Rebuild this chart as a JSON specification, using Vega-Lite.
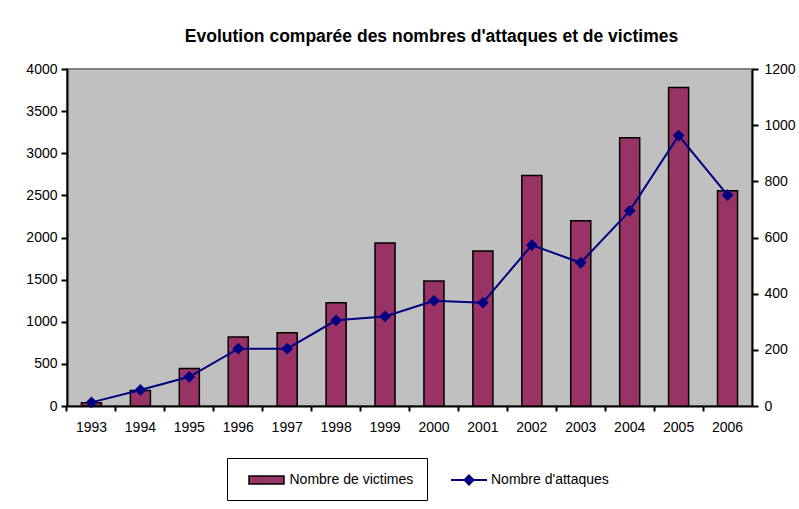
{
  "$schema": "https://vega.github.io/schema/vega-lite/v6.json",
  "width": 685,
  "height": 337,
  "autosize": {"type": "none"},
  "padding": {"left": 67, "top": 69, "right": 47, "bottom": 103},
  "background": "white",
  "title": {
    "text": "Evolution comparée des nombres d'attaques et de victimes",
    "font": "Liberation Sans",
    "fontSize": 17.5,
    "fontWeight": "bold",
    "color": "black",
    "anchor": "middle",
    "frame": "group",
    "baseline": "alphabetic",
    "dx": 22,
    "offset": 3
  },
  "data": {
    "values": [
      {"annee": "1993", "victimes": 40, "attaques": 13},
      {"annee": "1994", "victimes": 185, "attaques": 57},
      {"annee": "1995", "victimes": 445, "attaques": 104},
      {"annee": "1996", "victimes": 820, "attaques": 204},
      {"annee": "1997", "victimes": 870, "attaques": 204},
      {"annee": "1998", "victimes": 1225, "attaques": 305},
      {"annee": "1999", "victimes": 1935, "attaques": 319},
      {"annee": "2000", "victimes": 1485, "attaques": 375},
      {"annee": "2001", "victimes": 1840, "attaques": 368},
      {"annee": "2002", "victimes": 2735, "attaques": 573},
      {"annee": "2003", "victimes": 2200, "attaques": 510},
      {"annee": "2004", "victimes": 3185, "attaques": 695},
      {"annee": "2005", "victimes": 3780, "attaques": 963},
      {"annee": "2006", "victimes": 2555, "attaques": 751}
    ]
  },
  "encoding": {
    "x": {
      "field": "annee",
      "type": "ordinal",
      "scale": {"paddingInner": 0.59, "paddingOuter": 0.295},
      "axis": {
        "title": null,
        "labelAngle": 0,
        "bandPosition": -0.72,
        "tickSize": 5,
        "tickWidth": 2,
        "tickColor": "black",
        "domainColor": "black",
        "domainWidth": 2,
        "labelPadding": 9,
        "labelFont": "Liberation Sans",
        "labelFontSize": 14,
        "labelColor": "black"
      }
    }
  },
  "layer": [
    {
      "mark": {"type": "bar", "stroke": "black", "strokeWidth": 1.5},
      "encoding": {
        "y": {
          "field": "victimes",
          "type": "quantitative",
          "scale": {"domain": [0, 4000], "nice": false},
          "axis": {
            "title": null,
            "orient": "left",
            "format": "d",
            "values": [0, 500, 1000, 1500, 2000, 2500, 3000, 3500, 4000],
            "grid": false,
            "tickSize": 6,
            "tickWidth": 2,
            "tickColor": "black",
            "domainColor": "black",
            "domainWidth": 2,
            "labelPadding": 4,
            "labelFont": "Liberation Sans",
            "labelFontSize": 14,
            "labelColor": "black"
          }
        },
        "fill": {
          "datum": "Nombre de victimes\u00a0\u00a0\u00a0\u00a0\u00a0\u00a0\u00a0\u00a0\u00a0\u00a0\u00a0\u00a0\u00a0\u00a0\u00a0\u00a0\u00a0\u00a0\u00a0\u00a0\u00a0\u00a0\u00a0\u00a0\u00a0\u00a0\u00a0\u00a0\u00a0\u00a0\u00a0\u00a0\u00a0\u00a0\u00a0\u00a0\u00a0\u00a0\u00a0\u00a0\u00a0\u00a0\u00a0\u00a0\u00a0\u00a0\u00a0\u00a0\u00a0\u00a0\u00a0\u00a0",
          "type": "nominal",
          "scale": {"range": ["#993366"]},
          "legend": {
            "title": null,
            "orient": "none",
            "legendX": 160,
            "legendY": 389,
            "padding": 13,
            "strokeColor": "black",
            "fillColor": "white",
            "symbolSize": 256,
            "symbolOffset": 17.5,
            "symbolType": "M-2.19,-0.5L2.19,-0.5L2.19,0.5L-2.19,0.5Z",
            "symbolStrokeColor": "black",
            "symbolStrokeWidth": 1.5,
            "labelOffset": 14,
            "labelLimit": 600,
            "labelFont": "Liberation Sans",
            "labelFontSize": 14,
            "labelColor": "black",
            "encode": {"legend": {"strokeWidth": {"value": 2}}}
          }
        }
      }
    },
    {
      "mark": {
        "type": "line",
        "strokeWidth": 2,
        "point": {"shape": "diamond", "size": 80, "filled": true, "fill": "#000080"}
      },
      "encoding": {
        "y": {
          "field": "attaques",
          "type": "quantitative",
          "scale": {"domain": [0, 1200], "nice": false},
          "axis": {
            "title": null,
            "orient": "right",
            "format": "d",
            "values": [0, 200, 400, 600, 800, 1000, 1200],
            "grid": false,
            "tickSize": 6,
            "tickWidth": 2,
            "tickColor": "black",
            "domainColor": "black",
            "domainWidth": 2,
            "labelPadding": 6,
            "labelFont": "Liberation Sans",
            "labelFontSize": 14,
            "labelColor": "black"
          }
        },
        "stroke": {
          "datum": "Nombre d'attaques",
          "type": "nominal",
          "scale": {"range": ["#000080"]},
          "legend": {
            "title": null,
            "orient": "none",
            "legendX": 383,
            "legendY": 402,
            "padding": 0,
            "symbolSize": 256,
            "symbolOffset": 10,
            "symbolType": "M-2.25,0L2.25,0M0,-0.56L0.56,0L0,0.56L-0.56,0Z",
            "symbolFillColor": "#000080",
            "symbolStrokeWidth": 2,
            "labelOffset": 13,
            "labelLimit": 500,
            "labelFont": "Liberation Sans",
            "labelFontSize": 14,
            "labelColor": "black"
          }
        }
      }
    }
  ],
  "resolve": {"scale": {"y": "independent"}, "axis": {"y": "independent"}},
  "config": {
    "view": {"fill": "#C0C0C0", "stroke": "#808080", "strokeWidth": 2},
    "font": "Liberation Sans"
  }
}
